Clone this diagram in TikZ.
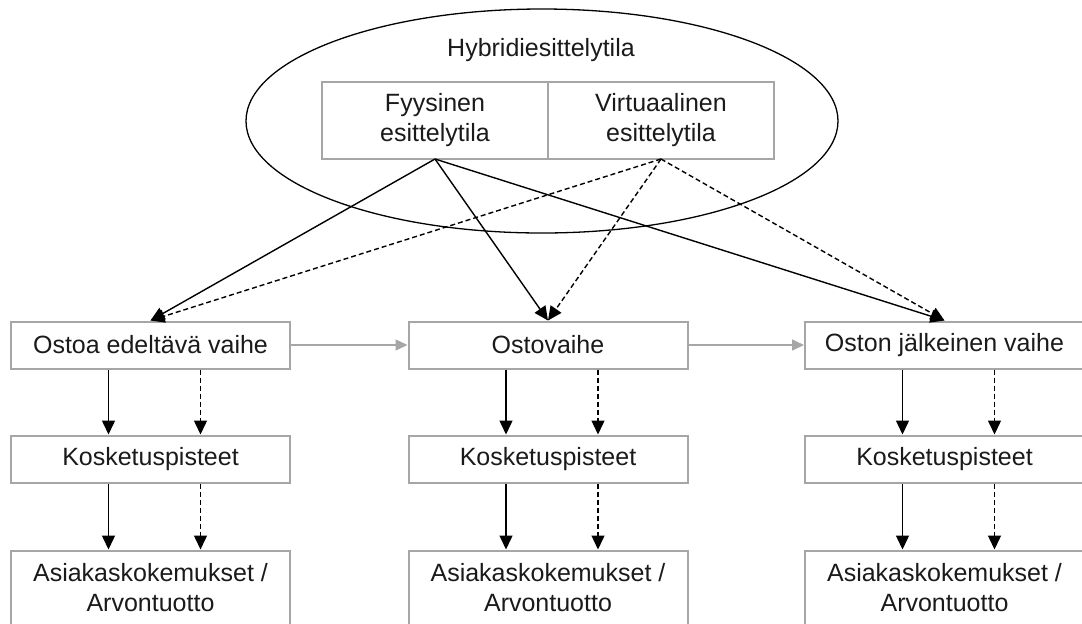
\documentclass[tikz,border=0pt]{standalone}
\usepackage{fontspec}
\setmainfont{Liberation Sans}
\usepackage{tikz}
\usetikzlibrary{positioning,arrows.meta,shapes.geometric}
\definecolor{boxgray}{HTML}{A6A6A6}
\definecolor{txtblack}{HTML}{1A1A1A}
\tikzset{
    every node/.style={font=\fontsize{12.5}{15}\selectfont,text=txtblack},
    phasebox/.style={rectangle,draw=boxgray,line width=1pt,minimum width=139.5pt,minimum height=23.5pt,inner sep=2pt,align=center},
    spacebox/.style={rectangle,draw=boxgray,line width=1pt,minimum width=113pt,minimum height=38.5pt,outer sep=0pt,align=center},
    realarr/.style={draw=black,line width=0.7pt,-{Triangle[length=7pt,width=6.5pt]}},
    virtarr/.style={realarr,dash pattern=on 2.5pt off 1.5pt},
    flowarr/.style={draw=boxgray,line width=0.8pt,-{Triangle[length=6pt,width=5.5pt]}}
}
\begin{document}
\begin{tikzpicture}[x=0.5pt,y=-0.5pt]
\useasboundingbox (0,0) rectangle (1082,623);
% hybrid showroom
\node[ellipse,draw=black,line width=0.65pt,minimum width=296pt,minimum height=112pt] (hybrid) at (542,121) {};
\node (hybridlabel) at (541,50) {Hybridiesittelytila};
\node[spacebox] (fys) at (435,120.5) {Fyysinen\\esittelytila};
\node[spacebox,right=0pt of fys] (virt) {Virtuaalinen\\esittelytila};
% purchase phases
\node[phasebox] (pre) at (150.5,345) {Ostoa edeltävä vaihe};
\node[phasebox] (buy) at (548,345) {Ostovaihe};
\node[phasebox] (post) at (944.5,345) {Oston jälkeinen vaihe};
\draw[flowarr] (pre) -- (buy);
\draw[flowarr] (buy) -- (post);
\foreach \p in {pre,buy,post}{
  \draw[realarr] (fys.south) -- (\p.north);
  \draw[virtarr] (virt.south) -- (\p.north);
}
% touchpoints and experiences
\foreach \p/\n in {pre/1,buy/2,post/3}{
  \node[phasebox,below=32.5pt of \p] (touch\n) {Kosketuspisteet};
  \node[phasebox,minimum height=37.5pt,below=33pt of touch\n] (exp\n) {Asiakaskokemukset /\\Arvontuotto};
  \draw[realarr] ([xshift=-21pt]\p.south) -- ([xshift=-21pt]touch\n.north);
  \draw[virtarr] ([xshift=25pt]\p.south) -- ([xshift=25pt]touch\n.north);
  \draw[realarr] ([xshift=-21pt]touch\n.south) -- ([xshift=-21pt]exp\n.north);
  \draw[virtarr] ([xshift=25pt]touch\n.south) -- ([xshift=25pt]exp\n.north);
}
\end{tikzpicture}
\end{document}
